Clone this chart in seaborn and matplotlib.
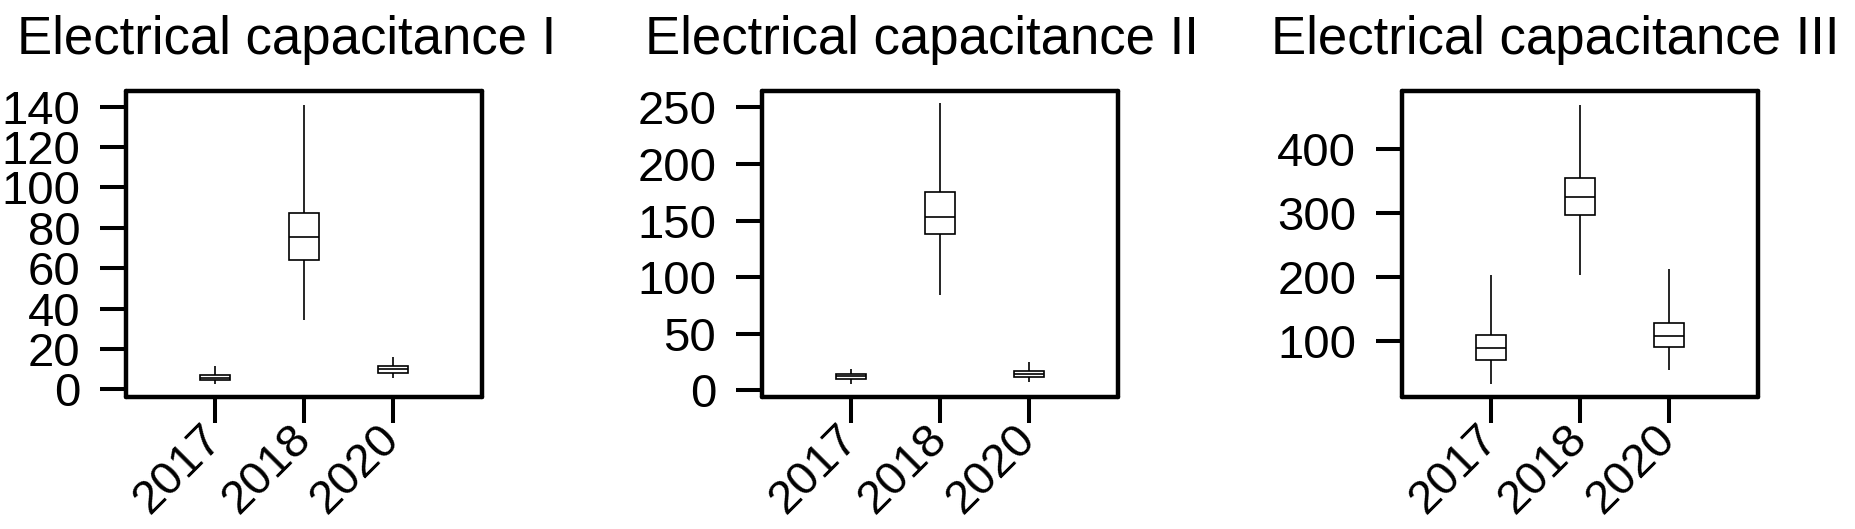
import numpy as np
import pandas as pd
import matplotlib
matplotlib.use("Agg")
import matplotlib.pyplot as plt
import seaborn as sns

sns.set_style("white")
plt.rcParams['font.family'] = ['Liberation Sans', 'DejaVu Sans']
plt.rcParams['text.color'] = 'black'

years = ["2017", "2018", "2020"]
titles = ["Electrical capacitance I", "Electrical capacitance II", "Electrical capacitance III"]

# five-number summaries: min, q1, median, q3, max
cap1_2017 = [2.8, 4.5, 5.6, 7.0, 11.4]
cap1_2018 = [34.3, 64.1, 75.4, 87.6, 140.7]
cap1_2020 = [5.6, 8.3, 10.1, 11.4, 16.0]

cap2_2017 = [5.9, 10.4, 12.8, 14.8, 19.0]
cap2_2018 = [84.6, 138.5, 153.3, 175.0, 253.6]
cap2_2020 = [7.4, 11.9, 14.5, 16.9, 25.2]

cap3_2017 = [33.7, 70.3, 89.6, 109.4, 203.3]
cap3_2018 = [203.3, 296.2, 325.0, 354.6, 467.8]
cap3_2020 = [55.7, 91.1, 108.3, 128.7, 212.7]

yticks1 = [0, 20, 40, 60, 80, 100, 120, 140]
yticks2 = [0, 50, 100, 150, 200, 250]
yticks3 = [100, 200, 300, 400]

panels = [
    (titles[0], [cap1_2017, cap1_2018, cap1_2020], yticks1, (-3.8, 147.8)),
    (titles[1], [cap2_2017, cap2_2018, cap2_2020], yticks2, (-5.9, 264.5)),
    (titles[2], [cap3_2017, cap3_2018, cap3_2020], yticks3, (12.9, 490.3)),
]

fig = plt.figure(figsize=(18.55, 5.29), dpi=100)
lefts = [126, 762, 1402]
title_x = [0.45, 0.45, 0.43]

for (title, stats, yt, ylim), left, tx in zip(panels, lefts, title_x):
    ax = fig.add_axes([left / 1855, (529 - 397) / 529, 356 / 1855, 306 / 529])
    rows = []
    for yr, s in zip(years, stats):
        for v in s:
            rows.append({"year": yr, "value": v})
    df = pd.DataFrame(rows)
    sns.boxplot(data=df, x="year", y="value", order=years, ax=ax,
                whis=(0, 100), width=0.33, color="white", linecolor="black",
                linewidth=1.2, showcaps=False, showfliers=False,
                medianprops={"color": "black", "linewidth": 1.2})
    ax.set_xlim(-1, 3)
    ax.set_ylim(*ylim)
    ax.set_yticks(yt)
    ax.set_xlabel("")
    ax.set_ylabel("")
    ax.set_title(title, fontsize=38, pad=27, color="black", x=tx)
    for sp in ax.spines.values():
        sp.set_visible(True)
        sp.set_linewidth(3.2)
        sp.set_color("black")
        sp.set_capstyle("round")
    ax.tick_params(axis="both", direction="out", length=19, width=2.9,
                   labelsize=34, colors="black", left=True, bottom=True)
    ax.tick_params(axis="y", pad=14)
    ax.tick_params(axis="x", pad=6)
    for lab in ax.get_xticklabels():
        lab.set_rotation(45)
        lab.set_ha("right")
        lab.set_va("center")
        lab.set_rotation_mode("anchor")

fig.savefig("out.png", dpi=100, facecolor="white")
